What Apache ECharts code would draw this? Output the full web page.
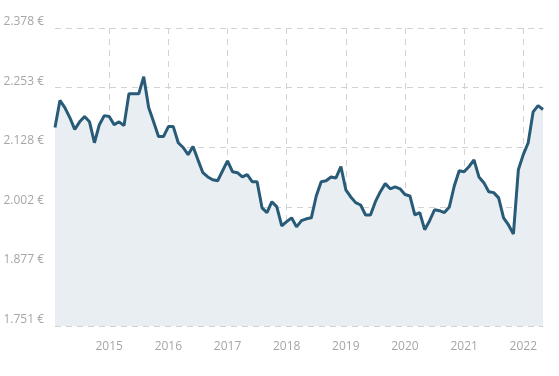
<!DOCTYPE html>
<html>
<head>
<meta charset="utf-8">
<script src="https://cdn.jsdelivr.net/npm/echarts@6/dist/echarts.min.js"></script>
<style>
html,body{margin:0;padding:0;background:#fff;}
#chart{width:559px;height:376px;}
</style>
</head>
<body>
<div id="chart"></div>
<script>
// Monthly categories: Feb 2014 .. May 2022
var startYear = 2014, startMonth = 2, pointCount = 100;
var categories = [];
for (var i = 0; i < pointCount; i++) {
  var m = startMonth - 1 + i;
  var y = startYear + Math.floor(m / 12);
  var mm = (m % 12) + 1;
  categories.push(y + '-' + (mm < 10 ? '0' + mm : mm));
}

var prices2014 = [2.169, 2.226, 2.211, 2.190, 2.165, 2.181, 2.192, 2.181, 2.137, 2.175, 2.194];
var prices2015 = [2.192, 2.175, 2.181, 2.173, 2.240, 2.240, 2.240, 2.276, 2.211, 2.181, 2.150, 2.150];
var prices2016 = [2.171, 2.171, 2.137, 2.127, 2.112, 2.129, 2.101, 2.074, 2.065, 2.059, 2.057, 2.078];
var prices2017 = [2.099, 2.076, 2.074, 2.065, 2.070, 2.055, 2.055, 2.000, 1.990, 2.013, 2.002, 1.962];
var prices2018 = [1.971, 1.979, 1.960, 1.973, 1.977, 1.979, 2.025, 2.055, 2.057, 2.065, 2.063, 2.087];
var prices2019 = [2.038, 2.023, 2.011, 2.006, 1.985, 1.985, 2.013, 2.034, 2.051, 2.040, 2.044, 2.040];
var prices2020 = [2.028, 2.025, 1.985, 1.990, 1.954, 1.973, 1.996, 1.994, 1.990, 2.002, 2.046, 2.078];
var prices2021 = [2.076, 2.087, 2.101, 2.065, 2.053, 2.034, 2.032, 2.021, 1.979, 1.964, 1.945, 2.080];
var prices2022 = [2.112, 2.137, 2.202, 2.215, 2.207];

var prices = [].concat(prices2014, prices2015, prices2016, prices2017, prices2018,
                       prices2019, prices2020, prices2021, prices2022);

var yMin = 1.7514, yMax = 2.3784, yStep = 0.1254;

function isJanuary(index, value) {
  return categories[index].slice(5) === '01';
}

var chart = echarts.init(document.getElementById('chart'), null, {renderer: 'canvas'});
chart.setOption({
  animation: false,
  grid: {left: 55, right: 16, top: 28, bottom: 50, containLabel: false},
  xAxis: {
    type: 'category',
    data: categories,
    boundaryGap: false,
    axisLine: {show: false},
    axisTick: {show: false},
    axisLabel: {
      interval: isJanuary,
      margin: 15,
      color: '#a6a6a6',
      fontSize: 12,
      fontFamily: 'Open Sans',
      formatter: function (v) { return v.slice(0, 4); }
    },
    splitLine: {
      show: true,
      interval: isJanuary,
      lineStyle: {color: '#d2d2d2', type: [6, 5], width: 1}
    }
  },
  yAxis: {
    type: 'value',
    min: yMin,
    max: yMax,
    interval: yStep,
    axisLine: {show: false},
    axisTick: {show: false},
    axisLabel: {
      margin: 11,
      color: '#a6a6a6',
      fontSize: 12,
      fontFamily: 'Open Sans',
      verticalAlign: 'bottom',
      lineHeight: 13,
      formatter: function (v) { return v.toFixed(3) + ' €'; }
    },
    splitLine: {
      show: true,
      lineStyle: {color: '#d2d2d2', type: [6, 5], width: 1}
    }
  },
  series: [{
    type: 'line',
    data: prices,
    symbol: 'none',
    smooth: false,
    lineStyle: {color: '#285b77', width: 3},
    itemStyle: {color: '#285b77'},
    areaStyle: {color: '#e9eef3', opacity: 1}
  }]
});
</script>
</body>
</html>
